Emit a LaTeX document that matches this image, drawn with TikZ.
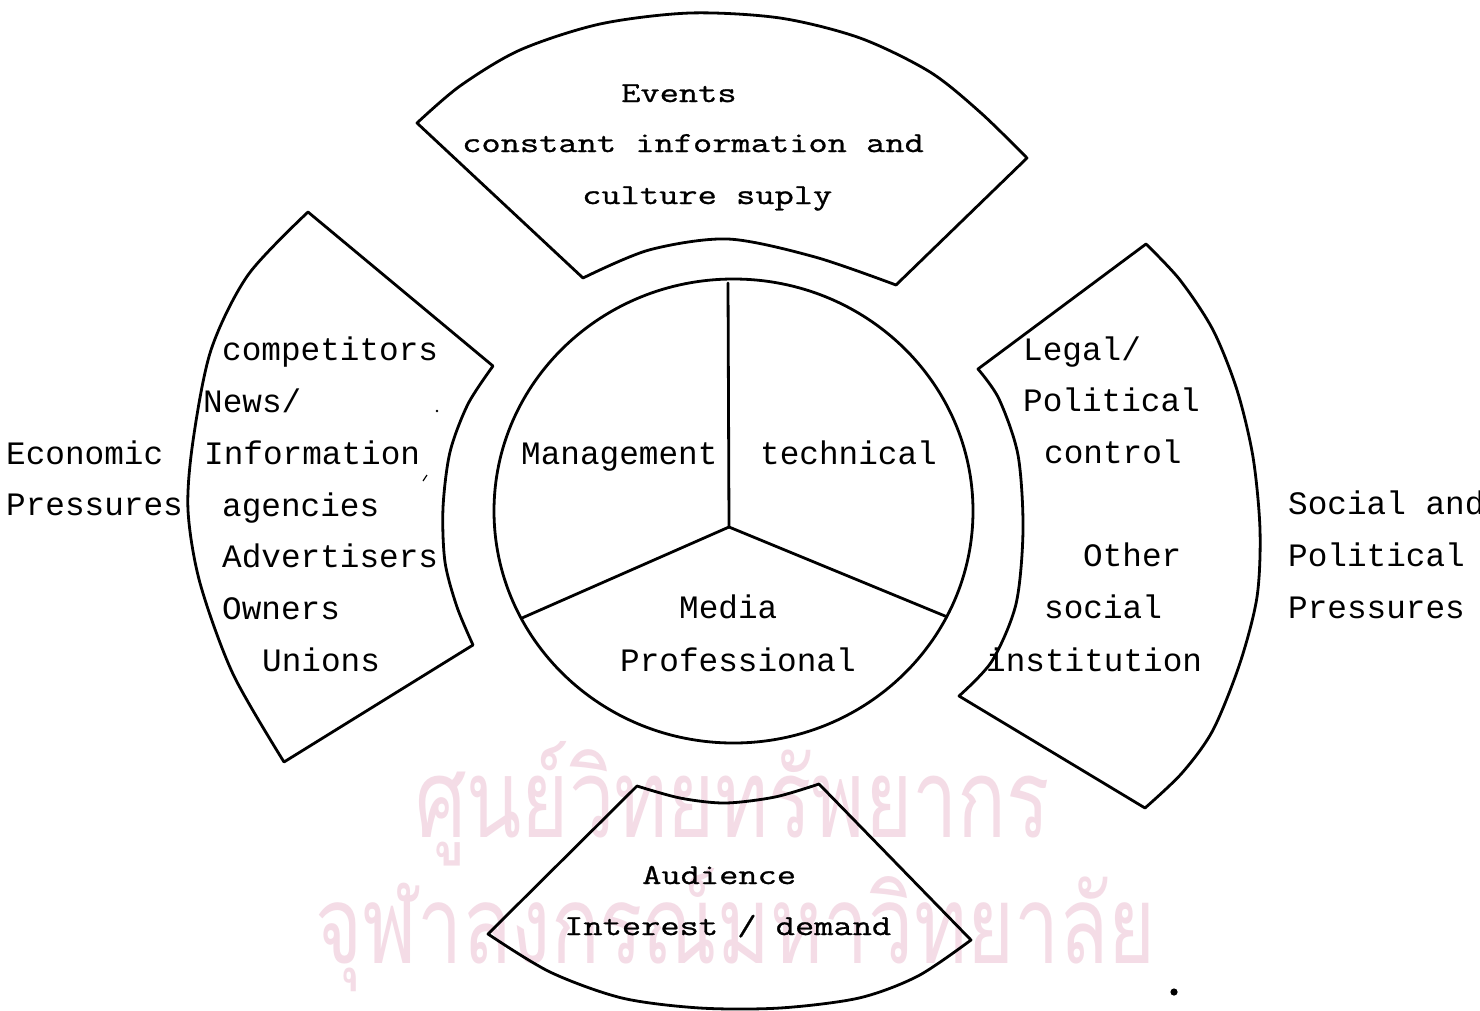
\documentclass[tikz,border=0pt]{standalone}
\usepackage{fontspec}
\newfontfamily\dotfont{Liberation Mono}
\newfontfamily\elite{Latin Modern Mono}[FakeStretch=1.288, FakeBold=1.0]
\newfontfamily\thaifont[Script=Thai]{Loma}
\definecolor{wmpink}{RGB}{244,220,230}
\tikzset{
  outline/.style={draw=black, line width=2.8pt, line join=round, line cap=round},
  dm/.style={anchor=base west, inner sep=0pt, font=\dotfont\fontsize{32.7pt}{40pt}\selectfont},
  tw/.style={anchor=base west, inner sep=0pt, font=\elite\fontsize{29pt}{40pt}\selectfont},
  wmark/.style={anchor=base west, inner sep=0pt, text=wmpink},
}
\begin{document}
\begin{tikzpicture}[x=1pt, y=-1pt]
\useasboundingbox (0,0) rectangle (1480,1010);
\fill[white] (0,0) rectangle (1480,1010);

% watermark text
\node[wmark] (wm1) at (415,837) {\resizebox{635pt}{96pt}{\thaifont ศูนย์วิทยทรัพยากร}};
\node[wmark] (wm2) at (315,963) {\resizebox{840pt}{95pt}{\thaifont จุฬาลงกรณ์มหาวิทยาลัย}};

% central circle and its three parts
\draw[outline] (733.5,511) ellipse [x radius=239.5pt, y radius=232pt];
\coordinate (hub) at (729,527);
\coordinate (sTop) at (728,283);
\coordinate (sLeft) at (522,618);
\coordinate (sRight) at (945,616);
\draw[outline] (hub) -- (sTop);
\draw[outline] (hub) -- (sLeft);
\draw[outline] (hub) -- (sRight);

% top sector
\draw[outline] (417,123) -- (583,278)
  -- plot[smooth] coordinates {(583,278) (649,250) (728,239) (815,257) (896,285)}
  -- (1027,158)
  -- plot[smooth] coordinates {(1027,158) (981,113) (930,72) (860,38) (780,18) (690,13) (600,24) (520,50) (460,86) (417,123)}
  -- cycle;

% left sector
\draw[outline] (308,212) -- (493,366)
  -- plot[smooth] coordinates {(493,366) (468,404) (450,452) (443,508) (445,562) (457,607) (473,645)}
  -- (284,762)
  -- plot[smooth] coordinates {(284,762) (233,674) (200,583) (188,510) (193,441) (211,350) (248,275) (308,212)}
  -- cycle;

% right sector
\draw[outline] (1146,244) -- (978,369)
  -- plot[smooth] coordinates {(978,369) (999,399) (1018,455) (1023,530) (1016,604) (992,661) (959,696)}
  -- (1145,808)
  -- plot[smooth] coordinates {(1145,808) (1182,773) (1213,730) (1240,663) (1257,597) (1260,530) (1253,457) (1237,390) (1213,330) (1180,280) (1146,244)}
  -- cycle;

% bottom sector
\draw[outline] (637,786)
  -- plot[smooth] coordinates {(637,786) (680,798) (725,803) (775,797) (819,784)}
  -- (971,940)
  -- plot[smooth] coordinates {(971,940) (918,976) (859,998) (780,1008) (700,1008) (622,998) (550,972) (488,934)}
  -- cycle;

% specks of the print
\fill (1174,992) circle (3.6pt);
\fill (437,411) circle (1.3pt);
\draw[line width=1.2pt] (423,481) -- (427,475);

% texts: top sector
\node[tw] (ev1) at (621,102) {Events};
\node[tw] (ev2) at (462,152) {constant information and};
\node[tw] (ev3) at (582,204) {culture suply};

% texts: left sector
\node[dm] (ec1) at (222,360) {competitors};
\node[dm] (ec2) at (203,412) {News/};
\node[dm] (ec3) at (204,464) {Information};
\node[dm] (ec4) at (222,516) {agencies};
\node[dm] (ec5) at (222,567) {Advertisers};
\node[dm] (ec6) at (222,619) {Owners};
\node[dm] (ec7) at (262,671) {Unions};
\node[dm] (eco1) at (6,464) {Economic};
\node[dm] (eco2) at (6,515) {Pressures};

% texts: centre
\node[dm] (man) at (521,464) {Management};
\node[dm] (tec) at (760,464) {technical};
\node[dm] (med1) at (679,618) {Media};
\node[dm] (med2) at (620,671) {Professional};

% texts: right sector
\node[dm] (sp1) at (1023,360) {Legal/};
\node[dm] (sp2) at (1023,411) {Political};
\node[dm] (sp3) at (1044,463) {control};
\node[dm] (sp4) at (1083,566) {Other};
\node[dm] (sp5) at (1044,618) {social};
\node[dm] (sp6) at (986,671) {institution};
\node[dm] (soc1) at (1288,514) {Social and};
\node[dm] (soc2) at (1288,566) {Political};
\node[dm] (soc3) at (1288,618) {Pressures};

% texts: bottom sector
\node[tw] (au1) at (642,884) {Audience};
\node[tw] (au2) at (564,935) {Interest / demand};
\end{tikzpicture}
\end{document}
